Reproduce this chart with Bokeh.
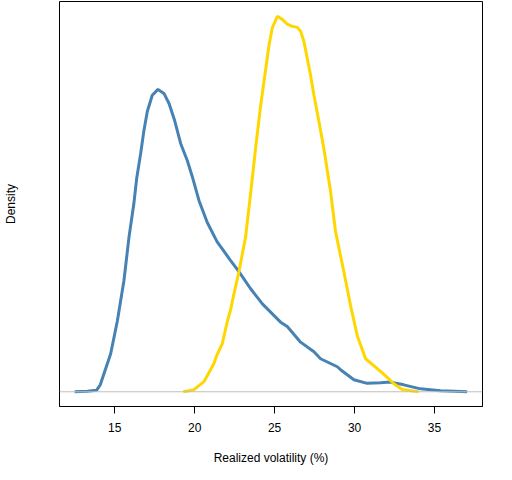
from bokeh.plotting import figure
from bokeh.models import Range1d, FixedTicker, Span
from bokeh.embed import file_html
from bokeh.resources import INLINE

# Blue series (density estimate)
blue_x = [12.5, 13.3, 13.86, 14.1, 14.33, 14.75, 15.17, 15.58, 15.9, 16.2, 16.375, 16.625,
          16.83, 17.04, 17.35, 17.71, 18.08, 18.4, 18.75, 19.125, 19.54, 19.85, 20.27, 20.79,
          21.4, 21.625, 22.25, 22.77, 23.5, 24.25, 25.375, 25.79, 26.625, 27.46, 27.875, 28.92,
          29.125, 29.96, 30.79, 31.625, 32.25, 33.08, 34.125, 35.375, 37.04]
blue_y = [0.0, 0.0002, 0.0007, 0.0033, 0.0086, 0.0181, 0.0338, 0.0529, 0.0738, 0.0895, 0.1014, 0.1133,
          0.1243, 0.1333, 0.1410, 0.1438, 0.1419, 0.1371, 0.1290, 0.1181, 0.1100, 0.1024, 0.0910, 0.0805,
          0.0714, 0.0690, 0.0624, 0.0571, 0.0490, 0.0417, 0.0331, 0.0310, 0.0236, 0.0190, 0.0157, 0.0119,
          0.0105, 0.0057, 0.0040, 0.0043, 0.0046, 0.0033, 0.0014, 0.0005, 0.0]

# Yellow series (density estimate)
gold_x = [19.29, 19.96, 20.58, 20.79, 21.2, 21.4, 21.73, 22.04, 22.25, 22.46, 22.77, 23.19,
          23.5, 23.81, 24.13, 24.44, 24.65, 24.85, 25.17, 25.48, 25.79, 26.1, 26.42, 26.63,
          26.83, 27.04, 27.25, 27.46, 27.77, 28.08, 28.5, 28.81, 29.33, 29.75, 30.17, 30.69,
          31.42, 31.94, 32.46, 32.98, 34.0]
gold_y = [0.0, 0.0010, 0.0048, 0.0076, 0.0133, 0.0176, 0.0229, 0.0333, 0.0390, 0.0467, 0.0571, 0.0738,
          0.0943, 0.1157, 0.1362, 0.1533, 0.1648, 0.1729, 0.1786, 0.1771, 0.1748, 0.1738, 0.1733, 0.1714,
          0.1667, 0.1586, 0.1505, 0.1410, 0.1286, 0.1157, 0.0952, 0.0762, 0.0571, 0.0410, 0.0267, 0.0157,
          0.0110, 0.0076, 0.0038, 0.0011, 0.0]

x_ticks = [15, 20, 25, 30, 35]

FONT = "Liberation Sans"

p = figure(width=496, height=470, output_backend="svg", toolbar_location=None,
           x_range=Range1d(11.55, 38.0), y_range=Range1d(-0.0070, 0.1856),
           min_border_left=59, min_border_right=14, min_border_top=1, min_border_bottom=64)

p.background_fill_color = "white"
p.border_fill_color = "white"
p.outline_line_color = "black"
p.outline_line_width = 1
p.xgrid.visible = False
p.ygrid.visible = False

xa = p.xaxis[0]
xa.ticker = FixedTicker(ticks=x_ticks)
xa.axis_line_color = "black"
xa.major_tick_out = 7
xa.major_tick_in = 0
xa.minor_tick_line_color = None
xa.major_label_standoff = 9
xa.major_label_text_font = FONT
xa.major_label_text_font_size = "12px"
xa.major_label_text_color = "black"
xa.axis_label = "Realized volatility (%)"
xa.axis_label_text_font = FONT
xa.axis_label_text_font_size = "12px"
xa.axis_label_text_font_style = "normal"
xa.axis_label_text_color = "black"
xa.axis_label_standoff = 16

ya = p.yaxis[0]
ya.ticker = FixedTicker(ticks=[])
ya.axis_line_color = None
ya.major_tick_line_color = None
ya.minor_tick_line_color = None
ya.major_label_text_font_size = "0px"
ya.axis_label = "Density"
ya.axis_label_text_font = FONT
ya.axis_label_text_font_size = "12px"
ya.axis_label_text_font_style = "normal"
ya.axis_label_text_color = "black"
ya.axis_label_standoff = 42

p.add_layout(Span(location=0, dimension="width", line_color="#bebebe", line_width=1))

p.line(blue_x, blue_y, line_color="#4682B4", line_width=3)
p.line(gold_x, gold_y, line_color="#FFD700", line_width=3)

open("out.html", "w").write(file_html(p, INLINE))
